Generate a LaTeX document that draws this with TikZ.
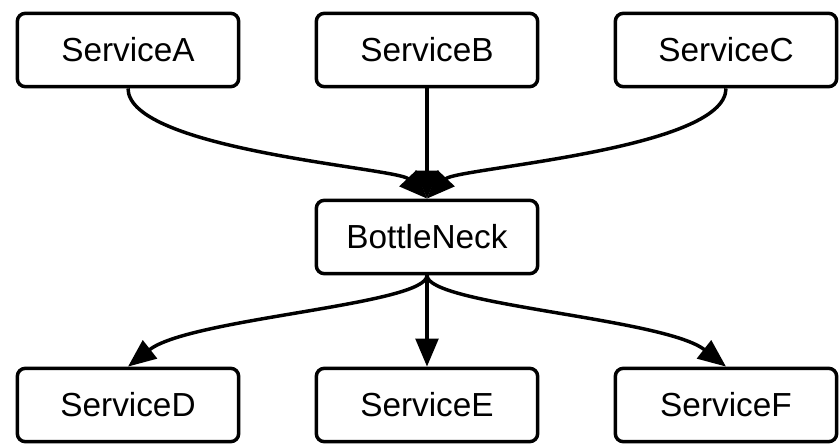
\documentclass[tikz,border=0pt]{standalone}
\usepackage{fontspec}
\setmainfont{Liberation Sans}
\usetikzlibrary{arrows.meta}

\tikzset{
    svc/.style={draw, line width=2.6pt, rounded corners=6pt, minimum width=166pt,
        minimum height=55pt, font=\fontsize{25}{29}\selectfont, inner sep=0pt},
    link/.style={line width=2.6pt, -{Triangle[length=21pt,width=17pt]}}
}

\begin{document}
\begin{tikzpicture}[x=0.75pt, y=-0.75pt]
    \useasboundingbox (0,0) rectangle (840,448);

    % Upstream services
    \foreach \name/\x in {A/128, B/427, C/726} {
        \node[svc] (svc\name) at (\x, 50) {Service\name};
    }

    % The shared node
    \node[svc] (neck) at (427, 237) {BottleNeck};

    % Downstream services
    \foreach \name/\x in {D/128, E/427, F/726} {
        \node[svc] (svc\name) at (\x, 405) {Service\name};
    }

    % Incoming edges
    \draw[link] (svcA.south) .. controls (128,150) and (398,168) .. (neck.north);
    \draw[link] (svcB.south) -- (neck.north);
    \draw[link] (svcC.south) .. controls (726,150) and (456,168) .. (neck.north);

    % Outgoing edges
    \draw[link] (neck.south) .. controls (427,305) and (190,318) .. (svcD.north);
    \draw[link] (neck.south) -- (svcE.north);
    \draw[link] (neck.south) .. controls (427,305) and (664,318) .. (svcF.north);
\end{tikzpicture}
\end{document}
